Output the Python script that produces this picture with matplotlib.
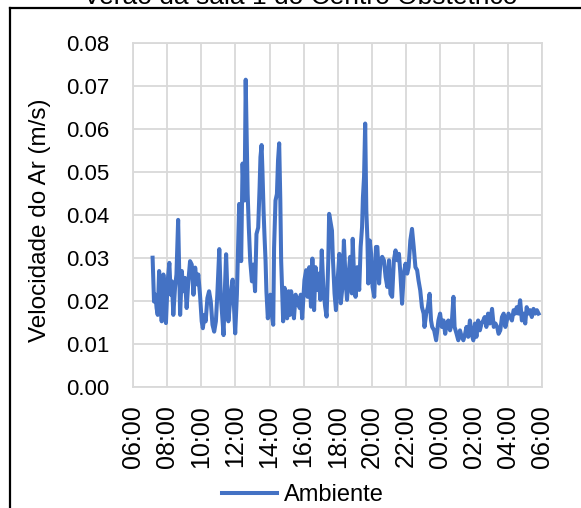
import matplotlib
matplotlib.use("Agg")
import matplotlib.pyplot as plt
from matplotlib.lines import Line2D

plt.rcParams['font.family'] = ['Liberation Sans', 'DejaVu Sans']

title = "Verão da sala 1 do Centro Obstétrico"
y_label = "Velocidade do Ar (m/s)"
series_name = "Ambiente"
tick_labels = ["06:00", "08:00", "10:00", "12:00", "14:00", "16:00", "18:00",
               "20:00", "22:00", "00:00", "02:00", "04:00", "06:00"]
tick_minutes = [0, 120, 240, 360, 480, 600, 720, 840, 960, 1080, 1200, 1320, 1440]

# minutes after 06:00
minutes = [68, 73, 78, 82, 86, 91, 95, 100, 106, 111, 115, 121, 127, 132, 136, 141, 147, 152, 158, 161,
           165, 171, 176, 182, 188, 194, 200, 206, 212, 218, 224, 229, 235, 241, 245, 251, 255, 261, 267, 273,
           279, 285, 291, 296, 303, 308, 313, 318, 322, 327, 332, 335, 341, 346, 350, 355, 359, 365, 369, 373,
           376, 380, 385, 388, 392, 396, 400, 403, 407, 412, 418, 423, 429, 434, 440, 445, 448, 452, 455, 459,
           462, 466, 469, 474, 479, 483, 488, 493, 496, 501, 506, 510, 514, 518, 521, 525, 528, 533, 538, 542,
           547, 552, 556, 561, 566, 572, 576, 581, 586, 590, 595,
           603, 609, 614, 620, 626, 631, 637, 642, 648, 653, 659, 664, 670, 676, 681, 687, 690, 696, 700, 703,
           709, 714, 720, 726, 731, 737, 742, 748, 753, 759, 764, 770, 773, 778, 783, 789, 796, 801, 806, 809,
           813, 817, 821, 825, 828, 833, 838, 843, 849, 855, 860, 866, 871, 877, 883, 889, 895, 901, 906, 912,
           918, 924, 930, 936, 941, 947, 953, 959, 965, 970, 976, 982, 988, 994, 1000, 1005, 1011, 1017, 1023, 1026,
           1032, 1038, 1044, 1049, 1053, 1060, 1067, 1075, 1081, 1087, 1093, 1099, 1104, 1110, 1116, 1122, 1128, 1132, 1139, 1145,
           1151, 1157, 1163, 1169, 1174, 1180, 1186, 1192, 1198, 1204, 1209, 1215, 1221, 1227, 1233, 1238, 1244, 1250, 1256, 1264,
           1270, 1276, 1282, 1287, 1293, 1299, 1305, 1311, 1316, 1322, 1328, 1334, 1340, 1346, 1351, 1357, 1363, 1369, 1375, 1381,
           1386, 1392, 1398, 1404, 1410, 1416, 1422, 1428]

velocity = [0.0300, 0.0198, 0.0214, 0.0183, 0.0167, 0.0269, 0.0214, 0.0152, 0.0261, 0.0214, 0.0148, 0.0245, 0.0288, 0.0214, 0.0245, 0.0167, 0.0230, 0.0261, 0.0388, 0.0292,
            0.0167, 0.0269, 0.0222, 0.0253, 0.0183, 0.0245, 0.0292, 0.0284, 0.0214, 0.0277, 0.0238, 0.0261, 0.0214, 0.0152, 0.0136, 0.0167, 0.0152, 0.0206, 0.0222, 0.0198,
            0.0144, 0.0128, 0.0152, 0.0214, 0.0320, 0.0214, 0.0167, 0.0120, 0.0214, 0.0308, 0.0214, 0.0152, 0.0198, 0.0230, 0.0249, 0.0183, 0.0124, 0.0214, 0.0323, 0.0425,
            0.0394, 0.0292, 0.0519, 0.0464, 0.0433, 0.0714, 0.0558, 0.0448, 0.0370, 0.0292, 0.0245, 0.0284, 0.0222, 0.0355, 0.0370, 0.0464, 0.0534, 0.0562, 0.0503, 0.0409,
            0.0355, 0.0292, 0.0222, 0.0159, 0.0198, 0.0214, 0.0167, 0.0144, 0.0323, 0.0433, 0.0448, 0.0527, 0.0566, 0.0433, 0.0292, 0.0214, 0.0152, 0.0230, 0.0198, 0.0159,
            0.0222, 0.0167, 0.0222, 0.0198, 0.0159, 0.0214, 0.0191, 0.0206, 0.0183, 0.0214, 0.0159,
            0.0248, 0.0271, 0.0209, 0.0278, 0.0186, 0.0298, 0.0178, 0.0278, 0.0225, 0.0263, 0.0202, 0.0317, 0.0225, 0.0186, 0.0163, 0.0294, 0.0402, 0.0378, 0.0363, 0.0302,
            0.0217, 0.0178, 0.0248, 0.0309, 0.0194, 0.0232, 0.0340, 0.0248, 0.0202, 0.0263, 0.0302, 0.0217, 0.0344, 0.0255, 0.0209, 0.0278, 0.0225, 0.0325, 0.0371, 0.0440,
            0.0488, 0.0612, 0.0410, 0.0340, 0.0240, 0.0340, 0.0309, 0.0232, 0.0209, 0.0325, 0.0325, 0.0240, 0.0294, 0.0302, 0.0294, 0.0255, 0.0232, 0.0294, 0.0216, 0.0209,
            0.0294, 0.0317, 0.0294, 0.0309, 0.0263, 0.0193, 0.0263, 0.0286, 0.0263, 0.0278, 0.0340, 0.0367, 0.0325, 0.0278, 0.0271, 0.0247, 0.0224, 0.0185, 0.0170, 0.0139,
            0.0170, 0.0185, 0.0216, 0.0154, 0.0139, 0.0131, 0.0108, 0.0154, 0.0170, 0.0139, 0.0154, 0.0123, 0.0147, 0.0154, 0.0131, 0.0147, 0.0209, 0.0139, 0.0123, 0.0108,
            0.0131, 0.0116, 0.0108, 0.0123, 0.0139, 0.0116, 0.0154, 0.0123, 0.0108, 0.0147, 0.0116, 0.0154, 0.0131, 0.0147, 0.0154, 0.0162, 0.0139, 0.0170, 0.0147, 0.0181,
            0.0139, 0.0147, 0.0139, 0.0123, 0.0131, 0.0162, 0.0170, 0.0139, 0.0154, 0.0170, 0.0162, 0.0154, 0.0178, 0.0170, 0.0185, 0.0170, 0.0201, 0.0154, 0.0170, 0.0147,
            0.0185, 0.0170, 0.0178, 0.0162, 0.0181, 0.0170, 0.0178, 0.0170]

W, H = 581, 508
fig = plt.figure(figsize=(W / 100, H / 100), dpi=100)
ax = fig.add_axes([133.3 / W, 1 - 386.7 / H, (542 - 133.3) / W, (386.7 - 42.7) / H])

line_color = "#4472C4"
grid_color = "#D9D9D9"

ax.plot(minutes, velocity, color=line_color, lw=2.9, solid_joinstyle="round", label=series_name, zorder=3)

ax.set_xlim(0, 1440)
ax.set_ylim(0, 0.08)
ax.set_xticks(tick_minutes)
ax.set_xticklabels(tick_labels, rotation=90, fontsize=18)
ax.set_yticks([i / 100 for i in range(9)])
ax.set_yticklabels([f"{i / 100:.2f}" for i in range(9)], fontsize=16)
ax.tick_params(axis="both", length=0, colors="black")
ax.tick_params(axis="y", pad=17)
ax.tick_params(axis="x", pad=13)
ax.grid(True, color=grid_color, lw=1.3, zorder=0)
for s in ax.spines.values():
    s.set_color(grid_color)
    s.set_linewidth(1.3)
ax.set_axisbelow(True)

fig.text(40 / W, 1 - 220 / H, y_label, rotation=90, ha="center", va="center", fontsize=17.5)
fig.text(300 / W, 1 - 4 / H, title, ha="center", va="baseline", fontsize=19)

leg = fig.legend(loc="center", bbox_to_anchor=(303 / W, 1 - 495 / H), frameon=False, fontsize=17,
                 handlelength=2.3, handletextpad=0.3, borderpad=0)

# outer chart-area frame (left and top edges)
fig.add_artist(Line2D([10 / W, 10 / W], [0, 1 - 8 / H], color="black", lw=1.6, transform=fig.transFigure))
fig.add_artist(Line2D([10 / W, 1], [1 - 8 / H, 1 - 8 / H], color="black", lw=1.6, transform=fig.transFigure))

fig.savefig("out.png", dpi=100)
